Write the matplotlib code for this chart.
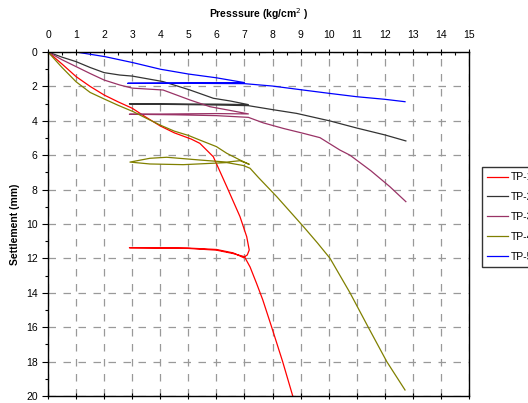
import matplotlib
matplotlib.use('Agg')
import matplotlib.pyplot as plt
from matplotlib.ticker import MultipleLocator

plt.rcParams['font.family'] = ['Liberation Sans', 'DejaVu Sans']

# Plate load test curves: pressure (kg/cm2) vs settlement (mm)
tp1_p = [0, 0.5, 1, 1.5, 2, 2.5, 3, 3.5, 4, 4.5, 5.1, 5.41, 5.89, 6.37, 6.84, 7.08, 7.17, 7.1, 6.96,
         6.6, 6.0, 5.0, 4.0, 2.9, 4.0, 5.0, 6.0, 6.6, 7.0, 7.2, 7.43, 7.65, 7.97, 8.36, 8.72, 8.8]
tp1_s = [0, 0.7, 1.43, 2.0, 2.5, 2.9, 3.27, 3.8, 4.3, 4.7, 5.06, 5.31, 6.09, 7.83, 9.57, 10.74, 11.51, 11.8, 11.95,
         11.68, 11.48, 11.4, 11.38, 11.38, 11.4, 11.42, 11.52, 11.72, 11.9, 12.5, 13.45, 14.4, 16.0, 18.0, 20.0, 20.4]

tp2_p = [0, 0.5, 1, 1.5, 2, 2.56, 3, 4.1, 5.06, 5.89, 6.5, 7.14, 6.0, 4.5, 2.9, 4.5, 6.0, 7.14,
         8.0, 8.86, 10.05, 11.0, 12.0, 12.75]
tp2_s = [0, 0.3, 0.56, 0.9, 1.2, 1.34, 1.4, 1.72, 2.21, 2.69, 2.85, 3.06, 3.03, 3.02, 3.02, 3.05, 3.08, 3.12,
         3.35, 3.57, 4.01, 4.42, 4.82, 5.17]

tp3_p = [0, 0.5, 1, 1.5, 2, 2.56, 3, 4.1, 5.06, 5.77, 6.5, 7.14, 6.0, 4.5, 2.9, 4.5, 6.0, 7.14,
         7.67, 8.4, 9.1, 9.69, 10.4, 10.76, 11.5, 12.18, 12.75]
tp3_s = [0, 0.45, 0.85, 1.25, 1.63, 1.92, 2.1, 2.21, 2.79, 3.18, 3.4, 3.6, 3.58, 3.6, 3.62, 3.65, 3.7, 3.8,
         4.12, 4.45, 4.73, 4.98, 5.7, 6.0, 6.9, 7.83, 8.7]

tp4_p = [0, 0.5, 1, 1.5, 2, 2.5, 3.04, 3.5, 4, 4.5, 5, 5.41, 6.0, 6.37, 6.84, 7.17, 6.84, 6.37, 5.41, 4.23,
         3.63, 2.92, 3.63, 4.82, 6.37, 6.96, 7.2, 7.5, 8.15, 9.1, 9.6, 10.05, 10.76, 11.41, 12.07, 12.72]
tp4_s = [0, 0.9, 1.73, 2.35, 2.73, 3.1, 3.47, 3.85, 4.25, 4.6, 4.85, 5.12, 5.5, 5.89, 6.28, 6.53, 6.32, 6.4, 6.28, 6.12,
         6.18, 6.4, 6.51, 6.55, 6.43, 6.6, 6.76, 7.3, 8.41, 10.15, 11.1, 12.0, 14.0, 16.0, 18.0, 19.65]

tp5_p = [0, 0.5, 1, 2.03, 3.03, 4, 5, 6, 7.0, 5.0, 2.84, 5.0, 7.0, 8.0, 9.04, 10, 11, 12, 12.72]
tp5_s = [0, 0, 0, 0.27, 0.62, 1.0, 1.28, 1.5, 1.78, 1.8, 1.82, 1.82, 1.84, 1.98, 2.2, 2.4, 2.6, 2.75, 2.89]

labels = ['TP-1', 'TP-2', 'TP-3', 'TP-4', 'TP-5']
colors = ['#ff0000', '#333333', '#993366', '#808000', '#0000ff']
series = [(tp1_p, tp1_s), (tp2_p, tp2_s), (tp3_p, tp3_s), (tp4_p, tp4_s), (tp5_p, tp5_s)]

fig = plt.figure(figsize=(5.28, 4.03), dpi=100)
ax = fig.add_axes([48 / 528, 7 / 403, 421 / 528, 344 / 403])

for (p, s), lab, c in zip(series, labels, colors):
    ax.plot(p, s, color=c, lw=0.9, label=lab)

ax.set_xlim(0, 15)
ax.set_ylim(20, 0)
ax.xaxis.tick_top()
ax.xaxis.set_label_position('top')
ax.xaxis.set_major_locator(MultipleLocator(1))
ax.xaxis.set_minor_locator(MultipleLocator(0.5))
ax.yaxis.set_major_locator(MultipleLocator(2))
ax.yaxis.set_minor_locator(MultipleLocator(1))
ax.tick_params(axis='x', which='major', direction='inout', length=5, width=0.8, labelsize=7.5,
               top=True, bottom=True, pad=6)
ax.tick_params(axis='x', which='minor', direction='in', length=2.5, width=0.8, top=True, bottom=False)
ax.tick_params(axis='y', which='major', direction='out', length=4, width=0.8, labelsize=7.5)
ax.tick_params(axis='y', which='minor', direction='out', length=2.5, width=0.8)

ax.grid(True, which='major', color='#999999', lw=0.9, linestyle=(0, (6, 6)))

for sp in ax.spines.values():
    sp.set_linewidth(1.0)

ax.set_xlabel('Presssure (kg/cm$^{2}$ )', fontsize=7.5, fontweight='bold', labelpad=9)
ax.set_ylabel('Settlement (mm)', fontsize=7.5, fontweight='bold', labelpad=4)

fig.legend(loc='upper left', bbox_to_anchor=(482 / 528, 1 - 167 / 403), borderaxespad=0,
           fontsize=7.5, frameon=True, fancybox=False, edgecolor='black', handlelength=2.0,
           labelspacing=0.95, borderpad=0.5, handletextpad=0.3)

fig.savefig('out.png', dpi=100)
